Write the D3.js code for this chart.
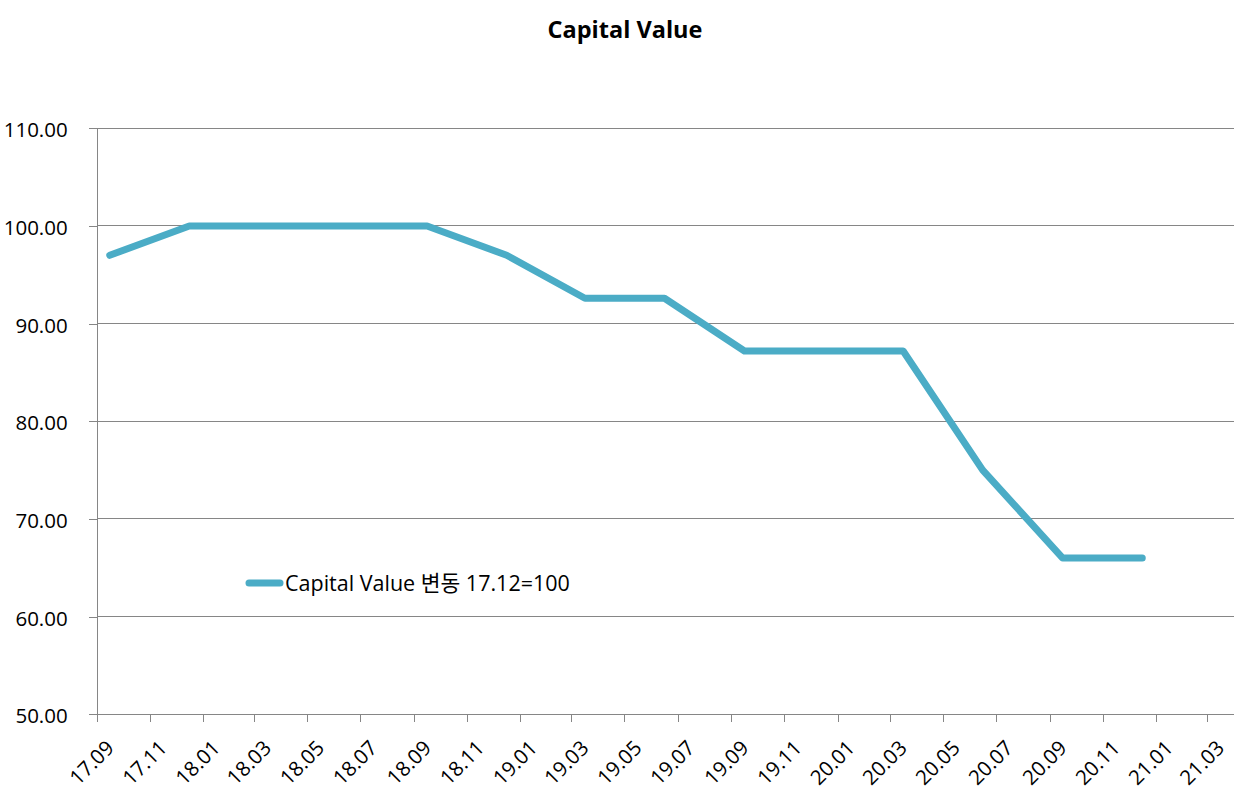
<!DOCTYPE html>
<html lang="en">
<head>
    <meta charset="UTF-8">
    <title>Capital Value</title>
    <style>
        body { margin: 0; background: #fff; }
        svg text { font-family: "Open Sans", "Noto Sans CJK KR", sans-serif; fill: #000; }
        .grid line { stroke: #868686; stroke-width: 1px; shape-rendering: crispEdges; }
        .axis path, .axis line { stroke: #868686; stroke-width: 1px; shape-rendering: crispEdges; }
        .axis text { font-size: 20.5px; }
        .title { font-size: 23.5px; font-weight: bold; }
        .legend text { font-size: 21.5px; }
    </style>
    <script src="https://d3js.org/d3.v7.min.js"></script>
</head>
<body>
    <script>
        // quarterly index, 17.12 = 100
        const periods = ["2017-09", "2017-12", "2018-03", "2018-06", "2018-09", "2018-12", "2019-03",
                         "2019-06", "2019-09", "2019-12", "2020-03", "2020-06", "2020-09", "2020-12"];
        const values = [97.0, 100, 100, 100, 100, 97.0, 92.6, 92.6, 87.2, 87.2, 87.2, 75.0, 66.0, 66.0];
        const yTicks = [50, 60, 70, 80, 90, 100, 110];
        const seriesName = "Capital Value 변동 17.12=100";
        const chartTitle = "Capital Value";

        const width = 1243, height = 807;
        const plotLeft = 96.7, plotRight = 1234, plotTop = 128.3, plotBottom = 714.3;
        const lineColor = "#4bacc6";

        const svg = d3.select("body").append("svg")
            .attr("width", width)
            .attr("height", height);

        const parseMonth = d3.utcParse("%Y-%m");
        const x = d3.scaleUtc()
            .domain([parseMonth("2017-09"), parseMonth("2021-04")])
            .range([plotLeft, plotRight]);
        const y = d3.scaleLinear().domain([50, 110]).range([plotBottom, plotTop]);

        // points sit in the middle of their month
        const midX = p => {
            const d = parseMonth(p);
            return (x(d) + x(d3.utcMonth.offset(d, 1))) / 2;
        };
        const points = periods.map((p, i) => ({ x: midX(p), y: y(values[i]) }));

        svg.append("text").attr("class", "title")
            .attr("x", 625).attr("y", 38)
            .attr("text-anchor", "middle")
            .text(chartTitle);

        // horizontal gridlines
        svg.append("g").attr("class", "grid")
            .selectAll("line").data(yTicks.filter(d => d !== 50)).enter().append("line")
            .attr("x1", plotLeft).attr("x2", plotRight)
            .attr("y1", d => y(d)).attr("y2", d => y(d));

        // y axis
        const yAxis = svg.append("g").attr("class", "axis")
            .attr("transform", `translate(${plotLeft},0)`)
            .call(d3.axisLeft(y).tickValues(yTicks).tickSize(8).tickSizeOuter(0).tickFormat(d3.format(".2f")));
        yAxis.selectAll("text").attr("x", -29).attr("dy", "0.41em");

        // x axis
        const xAxis = svg.append("g").attr("class", "axis")
            .attr("transform", `translate(0,${plotBottom})`)
            .call(d3.axisBottom(x)
                .ticks(d3.utcMonth.every(2))
                .tickSize(8).tickSizeOuter(0)
                .tickFormat(d3.utcFormat("%y.%m")));
        xAxis.select(".domain").attr("d", `M${plotLeft - 8},0.5H${plotRight}`);
        xAxis.selectAll("text")
            .attr("x", 0).attr("y", 0).attr("dy", 0)
            .attr("text-anchor", "end")
            .attr("transform", "translate(18,35) rotate(-45)");

        // series line
        svg.append("path")
            .datum(points)
            .attr("fill", "none")
            .attr("stroke", lineColor)
            .attr("stroke-width", 7)
            .attr("stroke-linecap", "round")
            .attr("stroke-linejoin", "round")
            .attr("d", d3.line().x(d => d.x).y(d => d.y));

        // legend inside plot
        const legend = svg.append("g").attr("class", "legend");
        legend.append("line")
            .attr("x1", 249).attr("x2", 280).attr("y1", 583).attr("y2", 583)
            .attr("stroke", lineColor).attr("stroke-width", 7).attr("stroke-linecap", "round");
        legend.append("text")
            .attr("x", 285).attr("y", 591)
            .text(seriesName);
    </script>
</body>
</html>
